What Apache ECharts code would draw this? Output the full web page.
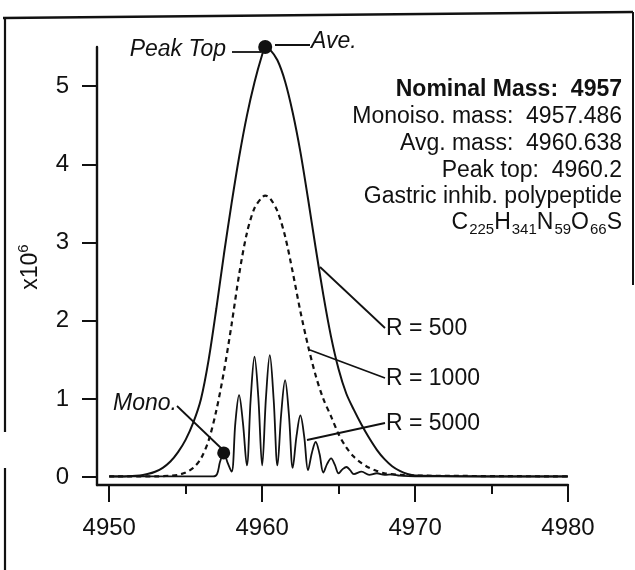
<!DOCTYPE html>
<html><head><meta charset="utf-8">
<script src="https://cdn.jsdelivr.net/npm/echarts@6/dist/echarts.min.js"></script>
<style>html,body{margin:0;padding:0;background:#fff}#c{width:635px;height:570px}</style>
</head><body><div id="c"></div>
<script>
// ---------- data ----------
const xTicks = [4950, 4960, 4970, 4980];
const xMinorTicks = [4955, 4965, 4975];
const yTicks = [0, 1, 2, 3, 4, 5];

const r500 = [[4950,0.01],[4951,0.01],[4952,0.02],[4952.5,0.04],[4953,0.07],[4953.5,0.12],[4954,0.2],[4954.5,0.32],[4955,0.48],[4955.5,0.7],[4956,1.0],[4956.5,1.5],[4957,2.15],[4957.5,2.85],[4958,3.5],[4958.5,4.1],[4959,4.62],[4959.5,5.05],[4960,5.4],[4960.2,5.5],[4960.5,5.47],[4961,5.33],[4961.5,5.06],[4962,4.66],[4962.5,4.16],[4963,3.56],[4963.5,2.93],[4964,2.33],[4964.5,1.8],[4965,1.38],[4965.5,1.07],[4966,0.86],[4966.5,0.67],[4967,0.5],[4967.5,0.35],[4968,0.23],[4968.5,0.14],[4969,0.08],[4969.5,0.04],[4970,0.02],[4975,0.01],[4980,0.01]];

const r1000 = [[4950,0.01],[4953,0.01],[4954,0.02],[4954.5,0.03],[4955,0.06],[4955.5,0.12],[4956,0.24],[4956.5,0.47],[4957,0.85],[4957.5,1.35],[4958,1.95],[4958.5,2.6],[4959,3.12],[4959.5,3.44],[4960,3.58],[4960.2,3.6],[4960.5,3.57],[4961,3.4],[4961.5,3.08],[4962,2.62],[4962.5,2.12],[4963,1.68],[4963.5,1.3],[4964,1.0],[4964.5,0.78],[4965,0.55],[4965.5,0.38],[4966,0.26],[4966.5,0.18],[4967,0.12],[4967.5,0.08],[4968,0.05],[4969,0.03],[4970,0.02],[4980,0.01]];

const r5000 = [[4950,0.01],[4956.8,0.01],[4957.05,0.04],[4957.25,0.2],[4957.49,0.31],[4957.73,0.19],[4958.0,0.07],[4958.25,0.7],[4958.49,1.05],[4958.74,0.7],[4959.0,0.15],[4959.25,1.0],[4959.5,1.54],[4959.75,1.02],[4960.0,0.15],[4960.25,1.02],[4960.5,1.56],[4960.75,1.0],[4961.0,0.15],[4961.25,0.82],[4961.5,1.24],[4961.75,0.8],[4962.0,0.12],[4962.25,0.53],[4962.5,0.79],[4962.75,0.52],[4963.0,0.09],[4963.25,0.31],[4963.5,0.45],[4963.75,0.3],[4964.0,0.06],[4964.25,0.17],[4964.51,0.24],[4964.75,0.16],[4965.0,0.05],[4965.25,0.1],[4965.51,0.13],[4965.75,0.09],[4966.0,0.04],[4966.5,0.07],[4967.0,0.03],[4967.5,0.05],[4968.0,0.03],[4968.5,0.035],[4969,0.02],[4970,0.01],[4980,0.01]];

const peakTopPoint = [[4960.2, 5.5]];
const monoPoint = [[4957.486, 0.31]];

const infoLines = ['Nominal Mass:  4957', 'Monoiso. mass:  4957.486', 'Avg. mass:  4960.638', 'Peak top:  4960.2', 'Gastric inhib. polypeptide'];
const formulaParts = [['C',0],['225',1],['H',0],['341',1],['N',0],['59',1],['O',0],['66',1],['S',0]];
const resLabels = ['R = 500', 'R = 1000', 'R = 5000'];

// ---------- chart ----------
const FF = '"Liberation Sans", Arial, Helvetica, sans-serif';
const chart = echarts.init(document.getElementById('c'), null, {renderer: 'canvas'});
const black = '#111';

function txt(x, y, text, opt) {
  return {
    type: 'text', x: x, y: y, silent: true,
    style: Object.assign({text: text, fill: black, font: '23px ' + FF, align: 'left', verticalAlign: 'middle'}, opt || {})
  };
}
function ln(x1, y1, x2, y2, w) {
  return {type: 'line', silent: true, shape: {x1: x1, y1: y1, x2: x2, y2: y2}, style: {stroke: black, lineWidth: w || 1.8}};
}

const graphics = [];
// frame
graphics.push(ln(3, 18, 633, 12, 2.5));
graphics.push(ln(633, 12, 633, 285, 2));
graphics.push(ln(5, 18, 5, 432, 2.2));
graphics.push(ln(5, 468, 5, 570, 2.2));
// Peak Top / Ave.
graphics.push(txt(226, 50, 'Peak Top', {align: 'right', font: 'italic 23px ' + FF}));
graphics.push(ln(232, 52, 261, 52));
graphics.push(ln(275, 45, 310, 45));
graphics.push(txt(311, 42, 'Ave.', {font: 'italic 23px ' + FF}));
// Mono.
graphics.push(txt(113, 404, 'Mono.', {font: 'italic 23px ' + FF}));
graphics.push(ln(177, 406, 222, 449));
// resolution labels
const rAnchors = [[320, 267, 385, 328], [310, 350, 385, 378], [307, 440, 385, 423]];
resLabels.forEach(function (s, i) {
  const a = rAnchors[i];
  graphics.push(ln(a[0], a[1], a[2], a[3]));
  graphics.push(txt(386, a[3] + 1, s));
});
// info block
const infoY = [90, 117, 144, 171, 197];
infoLines.forEach(function (s, i) {
  graphics.push(txt(622, infoY[i], s, {align: 'right', font: (i === 0 ? 'bold ' : '') + '23px ' + FF}));
});
// formula, laid out from the right
(function () {
  const ctx = document.createElement('canvas').getContext('2d');
  const bigF = '23px ' + FF, smallF = '15px ' + FF;
  let x = 622;
  const baseY = 223;
  for (let i = formulaParts.length - 1; i >= 0; i--) {
    const p = formulaParts[i];
    ctx.font = p[1] ? smallF : bigF;
    const w = ctx.measureText(p[0]).width + (p[1] ? 1 : 0);
    graphics.push(txt(x, p[1] ? baseY + 7 : baseY, p[0], {align: 'right', font: p[1] ? smallF : bigF}));
    x -= w;
  }
})();
// y axis name
graphics.push({type: 'text', x: 31, y: 267, rotation: Math.PI / 2, silent: true,
  style: {text: 'x10{s|6}', fill: black, font: '23px ' + FF, align: 'center', verticalAlign: 'middle',
    rich: {s: {fontSize: 15, fontFamily: FF, verticalAlign: 'top', lineHeight: 30, fill: black}}}});

const axisLineStyle = {color: black, width: 2.4};
const plainNum = function (v) { return String(v); };
const option = {
  animation: false,
  backgroundColor: '#fff',
  grid: {left: 97, right: 67, top: 47, bottom: 85, containLabel: false},
  xAxis: [{
    type: 'value', min: 4949.2, max: 4980,
    axisLine: {show: true, onZero: false, lineStyle: axisLineStyle},
    axisTick: {show: true, customValues: xTicks, length: 17, lineStyle: {color: black, width: 2}},
    axisLabel: {customValues: xTicks, formatter: plainNum, margin: 31, color: black, fontSize: 24, fontFamily: FF},
    splitLine: {show: false}
  }, {
    type: 'value', min: 4949.2, max: 4980, position: 'bottom',
    axisLine: {show: false, onZero: false},
    axisTick: {show: true, customValues: xMinorTicks, length: 9, lineStyle: {color: black, width: 2}},
    axisLabel: {show: false},
    splitLine: {show: false}
  }],
  yAxis: {
    type: 'value', min: -0.1, max: 5.5,
    axisLine: {show: true, onZero: false, lineStyle: axisLineStyle},
    axisTick: {show: true, customValues: yTicks, length: 15, lineStyle: {color: black, width: 2}},
    axisLabel: {customValues: yTicks, formatter: plainNum, margin: 28, color: black, fontSize: 24, fontFamily: FF},
    splitLine: {show: false}
  },
  series: [
    {type: 'line', data: r500, showSymbol: false, smooth: 0.3, lineStyle: {color: black, width: 2}, z: 3},
    {type: 'line', data: r1000, showSymbol: false, smooth: 0.3, lineStyle: {color: black, width: 2.2, type: [5, 4]}, z: 3},
    {type: 'line', data: r5000, showSymbol: false, smooth: 0.35, lineStyle: {color: black, width: 1.8}, z: 3},
    {type: 'scatter', data: peakTopPoint, symbolSize: 14, itemStyle: {color: black, opacity: 1}, z: 5},
    {type: 'scatter', data: monoPoint, symbolSize: 13, itemStyle: {color: black, opacity: 1}, z: 5}
  ],
  graphic: graphics
};
chart.setOption(option);
</script>
</body></html>
